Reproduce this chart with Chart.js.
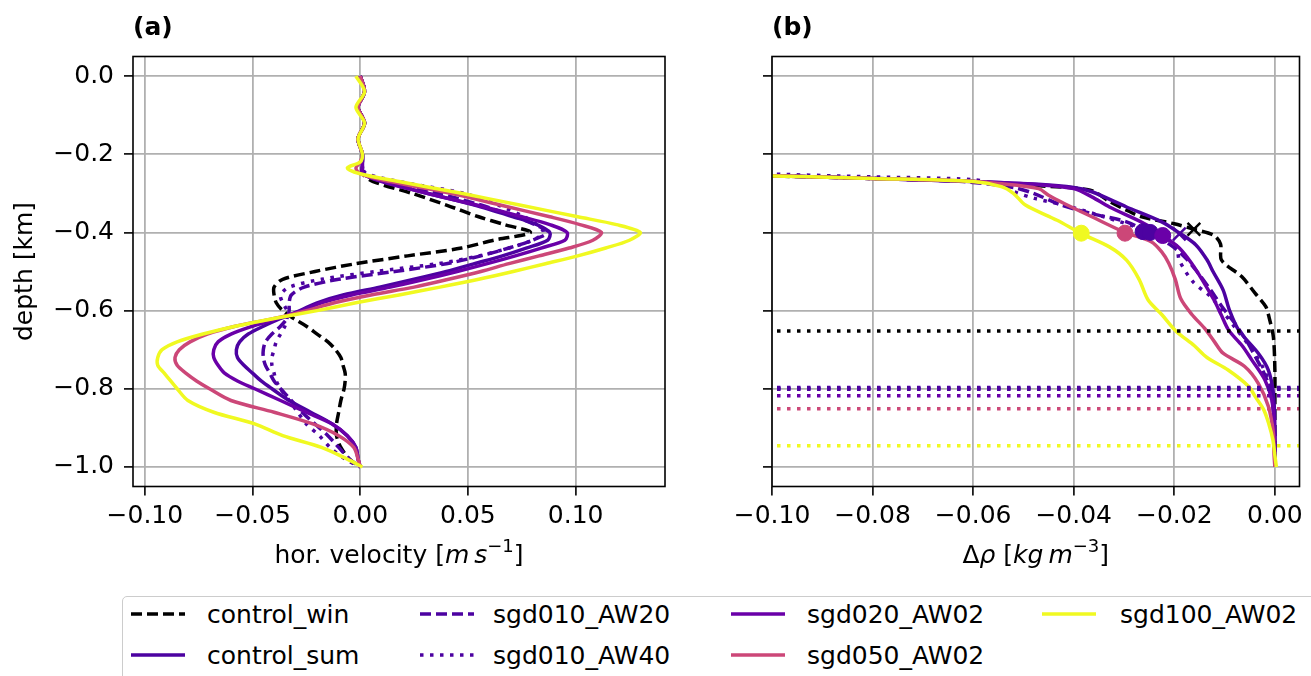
<!DOCTYPE html>
<html>
<head>
<meta charset="utf-8">
<script src="https://cdn.jsdelivr.net/npm/chart.js@4.4.1/dist/chart.umd.min.js"></script>
<style>
  body { margin: 0; width: 1311px; height: 676px; overflow: hidden; background: #fff; position: relative; font-family: "DejaVu Sans", sans-serif; }
  canvas { position: absolute; top: 0; }
  #legend { position: absolute; left: 122px; top: 596px; width: 1220px; height: 100px; border: 1.5px solid #cccccc; border-radius: 5px; box-sizing: border-box; }
  .item { position: absolute; height: 30px; display: flex; align-items: center; font-size: 25px; color: #000; white-space: nowrap; }
</style>
</head>
<body>
<canvas id="panelA" width="700" height="595" style="left:0"></canvas>
<canvas id="panelB" width="611" height="595" style="left:700px"></canvas>
<div id="legend"></div>
<script>
// runs, in plotting order
const seriesNames = ['control_win', 'control_sum', 'sgd010_AW20', 'sgd010_AW40', 'sgd020_AW02', 'sgd050_AW02', 'sgd100_AW02']
const seriesColors = ['#000000', '#4c02a1', '#4c02a1', '#4c02a1', '#6a00a8', '#cc4778', '#f0f921']
const seriesDash = [[11, 5], [], [11, 5], [3.5, 6.5], [], [], []]

// tick labels
const velTicks = [-0.10, -0.05, 0.00, 0.05, 0.10]
const rhoTicks = [-0.10, -0.08, -0.06, -0.04, -0.02, 0.00]
const depthTicks = [0.0, -0.2, -0.4, -0.6, -0.8, -1.0]

// (a) horizontal velocity [m/s] at these depths [km]
const depthA = [0, -0.04, -0.08, -0.12, -0.16, -0.2, -0.22, -0.235, -0.25, -0.27, -0.3, -0.33, -0.36, -0.38, -0.4,
  -0.42, -0.44, -0.46, -0.48, -0.5, -0.52, -0.54, -0.56, -0.58, -0.6, -0.62, -0.64, -0.66, -0.68, -0.7,
  -0.72, -0.74, -0.76, -0.78, -0.8, -0.83, -0.86, -0.89, -0.92, -0.95, -0.98, -1.0]
const velControlWin = [0.000, 0.002, -0.001, 0.002, -0.001, 0.001, 0.001, 0.001, 0.001,
  0.006, 0.024, 0.040, 0.055, 0.067, 0.079, 0.062, 0.047, 0.022, -0.002, -0.021,
  -0.036, -0.040, -0.040, -0.039, -0.036, -0.031, -0.025, -0.020, -0.015, -0.0115,
  -0.009, -0.008, -0.007, -0.007, -0.0075, -0.009, -0.010, -0.011, -0.011, -0.009, -0.005, 0.0]
const velControlSum = [0.000, 0.002, -0.001, 0.002, -0.001, 0.001, 0.001, 0.001, 0.001,
  0.011, 0.031, 0.053, 0.071, 0.082, 0.088, 0.087, 0.077, 0.066, 0.053, 0.040,
  0.025, 0.009, -0.008, -0.020, -0.028, -0.037, -0.045, -0.052, -0.056, -0.0575,
  -0.057, -0.054, -0.050, -0.046, -0.041, -0.033, -0.023, -0.013, -0.006, -0.002, -0.001, 0.0]
const velAW20 = [0.000, 0.002, -0.001, 0.002, -0.001, 0.001, 0.001, 0.001, 0.001,
  0.012, 0.036, 0.056, 0.072, 0.081, 0.087, 0.080, 0.069, 0.056, 0.040, 0.016,
  -0.010, -0.026, -0.032, -0.033, -0.033, -0.034, -0.037, -0.041, -0.044, -0.045,
  -0.045, -0.044, -0.042, -0.040, -0.037, -0.032, -0.027, -0.021, -0.015, -0.010, -0.005, 0.0]
const velAW40 = [0.000, 0.002, -0.001, 0.002, -0.001, 0.001, 0.001, 0.001, 0.003,
  0.018, 0.048, 0.064, 0.076, 0.082, 0.085, 0.080, 0.069, 0.055, 0.036, 0.007,
  -0.018, -0.033, -0.037, -0.036, -0.034, -0.034, -0.035, -0.037, -0.039, -0.040,
  -0.041, -0.041, -0.040, -0.039, -0.037, -0.033, -0.029, -0.025, -0.019, -0.014, -0.007, 0.0]
const velSgd020 = [0.000, 0.002, -0.001, 0.002, -0.001, 0.001, 0.001, 0.001, 0.001,
  0.010, 0.031, 0.054, 0.075, 0.088, 0.096, 0.095, 0.084, 0.072, 0.059, 0.045,
  0.030, 0.014, -0.004, -0.018, -0.027, -0.038, -0.050, -0.060, -0.066, -0.068,
  -0.068, -0.066, -0.063, -0.057, -0.049, -0.037, -0.025, -0.013, -0.006, -0.002, -0.001, 0.0]
const velSgd050 = [0.000, 0.002, -0.001, 0.002, -0.001, 0.001, 0.000, -0.002, 0.000,
  0.014, 0.042, 0.065, 0.088, 0.102, 0.112, 0.108, 0.097, 0.083, 0.069, 0.056,
  0.041, 0.025, 0.005, -0.012, -0.025, -0.040, -0.058, -0.071, -0.079, -0.084,
  -0.086, -0.085, -0.081, -0.076, -0.070, -0.060, -0.040, -0.022, -0.010, -0.003, -0.001, 0.0]
const velSgd100 = [-0.002, 0.002, -0.002, 0.002, -0.001, 0.001, 0.000, -0.006, 0.000,
  0.018, 0.047, 0.074, 0.101, 0.119, 0.130, 0.125, 0.114, 0.101, 0.086, 0.071,
  0.055, 0.037, 0.018, -0.002, -0.020, -0.040, -0.058, -0.073, -0.085, -0.092,
  -0.094, -0.094, -0.091, -0.088, -0.085, -0.080, -0.068, -0.049, -0.036, -0.018, -0.006, 0.001]

// (b) density anomaly [kg/m3] against depth [km], one pair of arrays per run
const zControlWin = [-0.254, -0.262, -0.270, -0.280, -0.292, -0.32, -0.343, -0.36, -0.378, -0.392, -0.407, -0.43, -0.471, -0.513, -0.556, -0.59, -0.62, -0.667, -0.75, -0.85, -1.0]
const rhoControlWin = [-0.105, -0.080, -0.060, -0.048, -0.0367, -0.033, -0.0295, -0.0265, -0.020, -0.0161, -0.0122, -0.0108, -0.0106, -0.0066, -0.0039, -0.0018, -0.0011, -0.0003, 0, 0, 0]
const zControlSum = [-0.253, -0.262, -0.270, -0.277, -0.285, -0.296, -0.335, -0.373, -0.403, -0.432, -0.47, -0.50, -0.547, -0.60, -0.65, -0.709, -0.752, -0.811, -0.9, -1.0]
const rhoControlSum = [-0.105, -0.080, -0.060, -0.047, -0.040, -0.0364, -0.0295, -0.0225, -0.0188, -0.0157, -0.0135, -0.0123, -0.0103, -0.0090, -0.0072, -0.0033, -0.0013, -0.0003, 0, 0]
const zAW20 = [-0.253, -0.262, -0.270, -0.285, -0.30, -0.33, -0.352, -0.373, -0.398, -0.43, -0.462, -0.50, -0.547, -0.59, -0.632, -0.68, -0.72, -0.77, -0.82, -0.9, -1.0]
const rhoAW20 = [-0.105, -0.080, -0.062, -0.052, -0.048, -0.0425, -0.0364, -0.0295, -0.0256, -0.021, -0.018, -0.0155, -0.0128, -0.0105, -0.008, -0.0055, -0.0038, -0.0018, -0.0006, -0.0001, 0]
const zAW40 = [-0.249, -0.258, -0.265, -0.280, -0.296, -0.313, -0.330, -0.36, -0.40, -0.432, -0.471, -0.526, -0.564, -0.60, -0.65, -0.70, -0.75, -0.80, -0.9, -1.0]
const rhoAW40 = [-0.105, -0.080, -0.060, -0.0545, -0.0518, -0.0478, -0.0419, -0.034, -0.0245, -0.0197, -0.019, -0.0163, -0.0128, -0.0105, -0.0075, -0.0045, -0.0022, -0.0008, -0.0001, 0]
const zSgd020 = [-0.253, -0.262, -0.270, -0.278, -0.288, -0.309, -0.335, -0.377, -0.408, -0.44, -0.48, -0.52, -0.573, -0.61, -0.65, -0.69, -0.726, -0.777, -0.829, -0.9, -1.0]
const rhoSgd020 = [-0.105, -0.080, -0.060, -0.047, -0.040, -0.0364, -0.0329, -0.026, -0.0223, -0.019, -0.0165, -0.0145, -0.0121, -0.0107, -0.0092, -0.0065, -0.0046, -0.002, -0.0006, -0.0001, 0]
const zSgd050 = [-0.253, -0.262, -0.268, -0.275, -0.288, -0.305, -0.326, -0.36, -0.40, -0.424, -0.45, -0.479, -0.52, -0.57, -0.61, -0.645, -0.68, -0.709, -0.743, -0.786, -0.845, -0.913, -0.96, -1.0]
const rhoSgd050 = [-0.105, -0.080, -0.062, -0.055, -0.047, -0.045, -0.0419, -0.0364, -0.0298, -0.0246, -0.0225, -0.0211, -0.0198, -0.0187, -0.0165, -0.014, -0.012, -0.0103, -0.006, -0.0033, -0.0013, -0.0003, -0.0002, 0]
const zSgd100 = [-0.254, -0.262, -0.270, -0.283, -0.30, -0.33, -0.369, -0.403, -0.437, -0.471, -0.52, -0.573, -0.61, -0.652, -0.69, -0.72, -0.752, -0.794, -0.82, -0.854, -0.89, -0.93, -0.97, -1.0]
const rhoSgd100 = [-0.105, -0.080, -0.060, -0.0544, -0.052, -0.0496, -0.0433, -0.0385, -0.0329, -0.0295, -0.027, -0.0252, -0.0225, -0.0197, -0.016, -0.0135, -0.0093, -0.0052, -0.0039, -0.0022, -0.0012, -0.0004, 0, 0.0003]

// marker at the depth of the velocity maximum, and the dotted depth lines
const peakRho = [-0.0161, -0.0190, -0.0262, -0.0248, -0.0223, -0.0298, -0.0385]
const peakDepth = [-0.392, -0.404, -0.398, -0.400, -0.408, -0.402, -0.402]
const levelDepth = [-0.652, -0.797, -0.799, -0.801, -0.818, -0.851, -0.946]

const velA = [velControlWin, velControlSum, velAW20, velAW40, velSgd020, velSgd050, velSgd100]
const zB = [zControlWin, zControlSum, zAW20, zAW40, zSgd020, zSgd050, zSgd100]
const rhoB = [rhoControlWin, rhoControlSum, rhoAW20, rhoAW40, rhoSgd020, rhoSgd050, rhoSgd100]
const peakMarker = ['crossRot', 'crossRot', 'circle', 'circle', 'circle', 'circle', 'circle']

const FONT = 'DejaVu Sans'
const N = '25px "DejaVu Sans"'
const I = 'oblique 25px "DejaVu Sans"'
const S = '18px "DejaVu Sans"'

function fmt(v, d) {
  if (Math.abs(v) < 1e-9) v = 0
  return v.toFixed(d).replace('-', '\u2212')
}

function drawParts(ctx, parts, cx, baseY) {
  let w = 0
  parts.forEach(p => { ctx.font = p.f; w += ctx.measureText(p.t).width })
  let x = cx - w / 2
  ctx.textAlign = 'left'
  ctx.textBaseline = 'alphabetic'
  parts.forEach(p => {
    ctx.font = p.f
    ctx.fillText(p.t, x, baseY + (p.dy || 0))
    x += ctx.measureText(p.t).width
  })
}

// black frame round the axes, panel letter, x label with math parts
const framePlugin = {
  id: 'frame',
  afterDraw(chart, args, opts) {
    const {ctx, chartArea: a} = chart
    ctx.save()
    ctx.strokeStyle = '#000'
    ctx.lineWidth = 1.6
    ctx.strokeRect(a.left, a.top, a.right - a.left, a.bottom - a.top)
    ctx.fillStyle = '#000'
    ctx.font = 'bold 25px "DejaVu Sans"'
    ctx.textAlign = 'left'
    ctx.textBaseline = 'middle'
    ctx.fillText(opts.tag, a.left, 28)
    drawParts(ctx, opts.xtitle, (a.left + a.right) / 2, 563)
    ctx.restore()
  }
}

const gridOpts = {color: '#b0b0b0', lineWidth: 1.8, tickColor: '#000', tickLength: 9, tickWidth: 1.6}

function depthScale(labels, width) {
  return {
    type: 'linear', min: -1.05, max: 0.05,
    afterBuildTicks: s => { s.ticks = depthTicks.map(v => ({value: v})) },
    afterFit: s => { s.width = width; s.paddingTop = 0; s.paddingBottom = 0 },
    grid: gridOpts,
    border: {display: false},
    ticks: {color: '#000', font: {family: FONT, size: 25}, padding: 10, autoSkip: false,
      callback: v => labels ? fmt(v, 1) : ''},
    title: {display: labels, text: 'depth [km]', color: '#000', font: {family: FONT, size: 25}, padding: {top: 10, bottom: 0}}
  }
}

function xScale(min, max, ticks, dec) {
  return {
    type: 'linear', position: 'bottom', min: min, max: max,
    afterBuildTicks: s => { s.ticks = ticks.map(v => ({value: v})) },
    afterFit: s => { s.height = 108.5; s.paddingLeft = 0; s.paddingRight = 0 },
    grid: gridOpts,
    border: {display: false},
    ticks: {color: '#000', font: {family: FONT, size: 25}, padding: 6, maxRotation: 0, autoSkip: false,
      callback: v => fmt(v, dec)}
  }
}

function lineStyle(i) {
  return {
    label: seriesNames[i], borderColor: seriesColors[i], backgroundColor: seriesColors[i],
    borderWidth: 3.5, borderDash: seriesDash[i], showLine: true, pointRadius: 0,
    tension: 0.3, fill: false, clip: 0, order: 20 - i
  }
}

// 2. PANEL (a)
const dsA = seriesNames.map((n, i) => Object.assign(lineStyle(i), {
  data: depthA.map((d, k) => ({x: velA[i][k], y: d}))
}))

new Chart(document.getElementById('panelA'), {
  type: 'scatter',
  data: {datasets: dsA},
  options: {
    responsive: false, animation: false, devicePixelRatio: 1,
    layout: {padding: {left: 0, top: 56.5, right: 35, bottom: 0}},
    scales: {x: xScale(-0.1055, 0.1415, velTicks, 2), y: depthScale(true, 133)},
    plugins: {
      legend: {display: false}, tooltip: {enabled: false},
      frame: {tag: '(a)', xtitle: [
        {t: 'hor. velocity [', f: N}, {t: 'm', f: I}, {t: '\u2009', f: N}, {t: 's', f: I},
        {t: '\u22121', f: S, dy: -11}, {t: ']', f: N}]}
    }
  },
  plugins: [framePlugin]
})

// 3. PANEL (b)
const dsB = []
seriesNames.forEach((n, i) => {
  dsB.push(Object.assign(lineStyle(i), {
    data: zB[i].map((z, k) => ({x: rhoB[i][k], y: z}))
  }))
  dsB.push({
    label: n + ' level', data: [{x: -0.099, y: levelDepth[i]}, {x: 0.0049, y: levelDepth[i]}],
    borderColor: seriesColors[i], borderWidth: 3.5, borderDash: [3.5, 6.5], showLine: true,
    pointRadius: 0, clip: 0, order: 10
  })
  const cross = peakMarker[i] === 'crossRot'
  dsB.push({
    label: n + ' peak', data: [{x: peakRho[i], y: peakDepth[i]}], showLine: false,
    pointStyle: peakMarker[i], pointRadius: cross ? 9 : 8,
    pointBackgroundColor: seriesColors[i], pointBorderColor: seriesColors[i],
    pointBorderWidth: cross ? 2.5 : 1, order: 5 - i * 0.1
  })
})

new Chart(document.getElementById('panelB'), {
  type: 'scatter',
  data: {datasets: dsB},
  options: {
    responsive: false, animation: false, devicePixelRatio: 1,
    layout: {padding: {left: 0, top: 56.5, right: 6, bottom: 0}},
    scales: {x: xScale(-0.1, 0.0049, rhoTicks, 2), y: depthScale(false, 72)},
    plugins: {
      legend: {display: false}, tooltip: {enabled: false},
      frame: {tag: '(b)', xtitle: [
        {t: '\u0394', f: N}, {t: '\u03c1', f: I}, {t: ' [', f: N}, {t: 'kg', f: I}, {t: '\u2009', f: N},
        {t: 'm', f: I}, {t: '\u22123', f: S, dy: -11}, {t: ']', f: N}]}
    }
  },
  plugins: [framePlugin]
})

// 4. LEGEND, column by column like matplotlib
const legHandleX = [131, 420, 731, 1042]
const legTextX = [207, 493, 807, 1120]
const legRowY = [614, 655]
seriesNames.forEach((n, i) => {
  const col = Math.floor(i / 2), row = i % 2
  const el = document.createElement('div')
  el.className = 'item'
  el.style.left = legHandleX[col] + 'px'
  el.style.top = (legRowY[row] - 15) + 'px'
  const dash = seriesDash[i].length ? seriesDash[i].join(' ') : 'none'
  el.innerHTML = '<svg width="54" height="10" style="margin-right:' + (legTextX[col] - legHandleX[col] - 54) + 'px">' +
    '<line x1="0" y1="5" x2="54" y2="5" stroke="' + seriesColors[i] + '" stroke-width="3.5" stroke-dasharray="' + dash + '"/></svg>' +
    '<span>' + n + '</span>'
  document.body.appendChild(el)
})
</script>
</body>
</html>
